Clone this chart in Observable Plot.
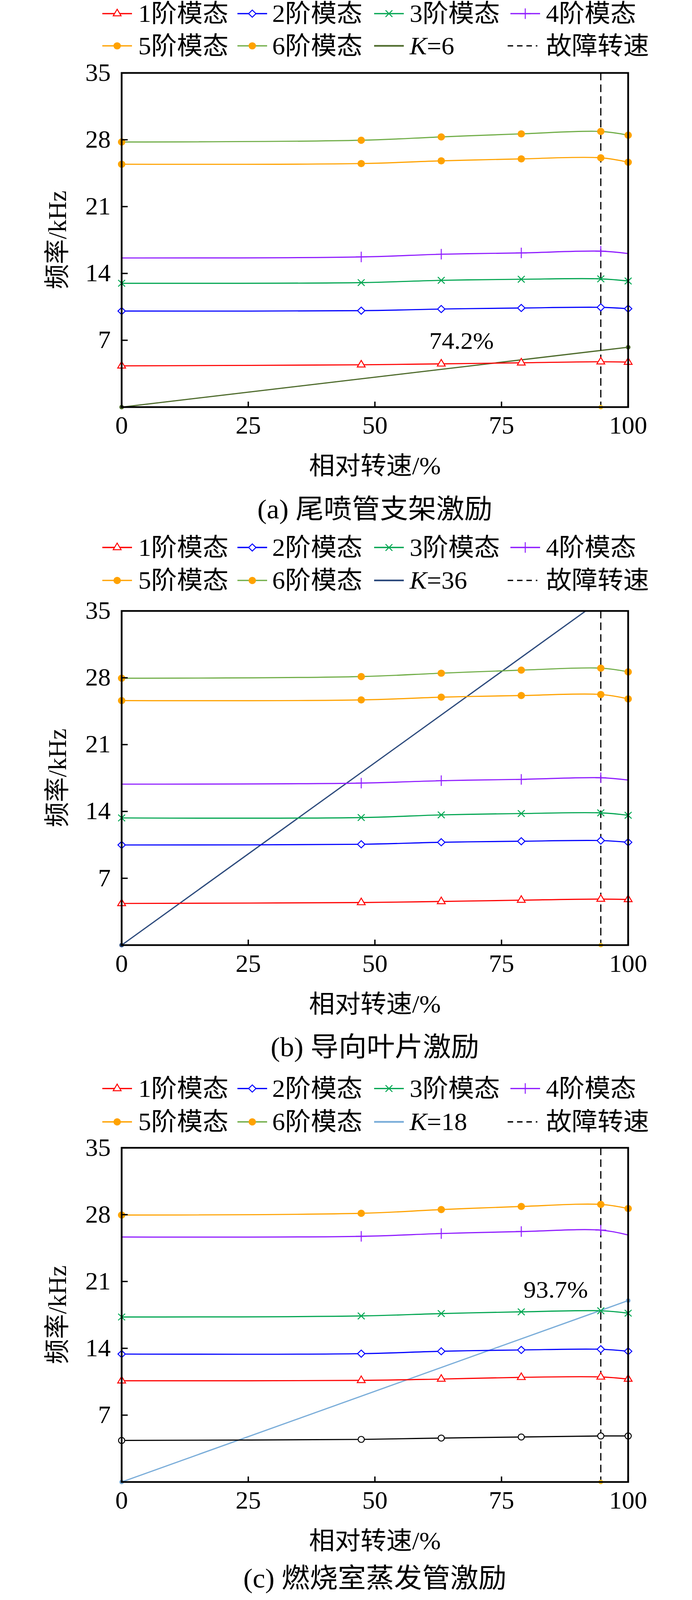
<!DOCTYPE html>
<html>
<head>
<meta charset="utf-8">
<script src="https://cdn.jsdelivr.net/npm/d3@7"></script>
<script src="https://cdn.jsdelivr.net/npm/@observablehq/plot@0.6"></script>
<style>
  html, body { margin: 0; padding: 0; background: #fff; overflow: hidden; }
  #page { position: relative; width: 1772px; height: 4223px; background: #fff;
    font-family: "Liberation Serif", "Noto Sans CJK SC", serif; color: #000; overflow: hidden;
    transform-origin: 0 0; }
  .abs { position: absolute; white-space: nowrap; line-height: 1; }
  .legtext { font-size: 66px; }
</style>
</head>
<body>
<div id="page"></div>
<script>
// ---------------- data ----------------
const speed = [0, 47.3, 63.1, 78.9, 94.6, 100];   // 相对转速/%
const faultSpeed = [94.6];
const xTicks = [0, 25, 50, 75, 100];
const yTicks = [7, 14, 21, 28, 35];
const legendLabels = ["1阶模态", "2阶模态", "3阶模态", "4阶模态", "5阶模态", "6阶模态"];

// (a) 尾喷管支架激励
const a_mode1 = [4.32, 4.43, 4.53, 4.64, 4.75, 4.71];
const a_mode2 = [10.06, 10.10, 10.27, 10.38, 10.45, 10.31];
const a_mode3 = [12.97, 13.04, 13.28, 13.39, 13.43, 13.21];
const a_mode4 = [15.62, 15.73, 16.01, 16.15, 16.33, 16.08];
const a_mode5 = [25.44, 25.51, 25.79, 26.00, 26.11, 25.65];
const a_mode6 = [27.77, 27.95, 28.30, 28.62, 28.87, 28.48];
const a_kX = [0, 100];
const a_kY = [0, 6.27];
const a_annot = [{x: 67.1, y: 6.9, text: "74.2%"}];

// (b) 导向叶片激励
const b_mode1 = [4.36, 4.46, 4.57, 4.71, 4.82, 4.78];
const b_mode2 = [10.49, 10.56, 10.77, 10.88, 10.95, 10.77];
const b_mode3 = [13.32, 13.36, 13.64, 13.78, 13.85, 13.60];
const b_mode4 = [16.86, 16.97, 17.22, 17.36, 17.53, 17.29];
const b_mode5 = [25.61, 25.68, 25.97, 26.14, 26.25, 25.79];
const b_mode6 = [27.95, 28.13, 28.48, 28.80, 29.01, 28.62];
const b_kX = [0, 100];
const b_kY = [0, 38.2];
const b_annot = [];

// (c) 燃烧室蒸发管激励
const c_black  = [4.35, 4.46, 4.60, 4.71, 4.82, 4.82];
const c_red    = [10.60, 10.64, 10.78, 10.96, 11.00, 10.78];
const c_blue   = [13.40, 13.44, 13.69, 13.83, 13.90, 13.69];
const c_green  = [17.28, 17.39, 17.64, 17.82, 17.93, 17.68];
const c_purple = [25.66, 25.73, 26.02, 26.23, 26.38, 25.87];
const c_orange = [27.96, 28.14, 28.53, 28.86, 29.07, 28.64];
const c_kX = [0, 100];
const c_kY = [0, 19.0];
const c_annot = [{x: 85.7, y: 20.1, text: "93.7%"}];

// ---------------- styles ----------------
const RED = "#ff0000", BLUE = "#0000ff", GREEN = "#00a550", PURPLE = "#8f1cff",
      ORANGE = "#ffa200", LGREEN = "#70ad47", GOLD = "#f4c430";
const FONT = '"Liberation Serif", "Noto Sans CJK SC", serif';

const styleOf = {
  tri:   {stroke: RED, symbol: "triangle", fill: "white", r: 7.5, sw: 2.5},
  dia:   {stroke: BLUE, symbol: "diamond2", fill: "white", r: 8.5, sw: 2.5},
  times: {stroke: GREEN, symbol: "times", fill: "none", r: 8, sw: 2.5},
  plus:  {stroke: PURPLE, symbol: "plus", fill: "none", r: 9, sw: 2.5},
  odot:  {stroke: "none", symbol: "circle", fill: ORANGE, r: 9.5, sw: 0},
  ocirc: {stroke: "#000", symbol: "circle", fill: "white", r: 8, sw: 2.5}
};

function rows(vals) { return speed.map((x, i) => ({x, y: vals[i]})); }

function seriesMarks(vals, lineColor, mk, noEnds) {
  const s = styleOf[mk];
  const data = rows(vals);
  return [
    Plot.line(data, {x: "x", y: "y", curve: "catmull-rom", stroke: lineColor, strokeWidth: 3}),
    Plot.dot(data, {x: "x", y: "y", symbol: s.symbol, r: s.r, fill: s.fill,
      stroke: s.stroke, strokeWidth: s.sw,
      filter: noEnds ? (d => d.x > 0 && d.x < 100) : undefined})
  ];
}

function makeChart(series, kX, kY, kColor, annot) {
  const kData = kX.map((x, i) => ({x, y: kY[i]}));
  const kDots = kData.filter(d => d.y <= 35);
  const marks = [
    Plot.line(kData, {x: "x", y: "y", stroke: kColor, strokeWidth: 3.2, clip: true}),
    Plot.dot(kDots, {x: "x", y: "y", r: 6, fill: kColor}),
    Plot.ruleX(faultSpeed, {stroke: "#000", strokeWidth: 3, strokeDasharray: "20,11"}),
    Plot.dot(faultSpeed, {x: d => d, y: () => 0, r: 6, fill: GOLD})
  ];
  for (const s of series) marks.push(...seriesMarks(s.vals, s.color, s.mk, s.noEnds));
  marks.push(
    Plot.text(annot, {x: "x", y: "y", text: "text", fontSize: 64, fill: "#000"}),
    Plot.frame({stroke: "#000", strokeWidth: 4.5}),
    Plot.axisY(yTicks, {anchor: "left", tickSize: -16, tickPadding: 44, strokeWidth: 3.5,
      tickFormat: d => String(d), label: null, fontSize: 65}),
    Plot.axisX(xTicks, {anchor: "bottom", tickSize: -14, tickPadding: 38, strokeWidth: 3.5,
      tickFormat: d => String(d), label: null, fontSize: 65})
  );
  return Plot.plot({
    width: 1772, height: 1022,
    marginLeft: 311, marginRight: 164, marginTop: 40, marginBottom: 100,
    x: {domain: [0, 100], axis: null},
    y: {domain: [0, 35], axis: null},
    style: {fontFamily: FONT, fontSize: "65px", color: "#000", background: "white", overflow: "visible"},
    marks
  });
}

// ---------------- legend ----------------
function swatchSVG(kind) {
  const w = 76, h = 40, cy = 20;
  const ns = "http://www.w3.org/2000/svg";
  const svg = document.createElementNS(ns, "svg");
  svg.setAttribute("width", w); svg.setAttribute("height", h);
  svg.style.display = "block";
  const line = (color, width, dash) => {
    const l = document.createElementNS(ns, "line");
    l.setAttribute("x1", 0); l.setAttribute("x2", w); l.setAttribute("y1", cy); l.setAttribute("y2", cy);
    l.setAttribute("stroke", color); l.setAttribute("stroke-width", width);
    if (dash) l.setAttribute("stroke-dasharray", dash);
    svg.appendChild(l);
  };
  const sym = (mk) => {
    const s = styleOf[mk];
    const map = {triangle: d3.symbolTriangle, diamond2: d3.symbolDiamond2, times: d3.symbolTimes,
                 plus: d3.symbolPlus, circle: d3.symbolCircle};
    const p = document.createElementNS(ns, "path");
    p.setAttribute("d", d3.symbol(map[s.symbol], Math.PI * s.r * s.r)());
    p.setAttribute("transform", `translate(${w / 2},${cy})`);
    p.setAttribute("fill", s.fill); p.setAttribute("stroke", s.stroke);
    p.setAttribute("stroke-width", s.sw);
    svg.appendChild(p);
  };
  if (kind.dash) line("#000", 3.5, "14,10");
  else { line(kind.color, kind.width || 3.5); if (kind.mk) sym(kind.mk); }
  return svg;
}

function addLegend(page, rowYs, kColor, kLabel) {
  const swX = [262, 608, 958, 1307];
  const txX = [354, 697, 1049, 1398];
  const items = [
    [{color: RED, mk: "tri"}, legendLabels[0]],
    [{color: BLUE, mk: "dia"}, legendLabels[1]],
    [{color: GREEN, mk: "times"}, legendLabels[2]],
    [{color: PURPLE, mk: "plus"}, legendLabels[3]],
    [{color: ORANGE, mk: "odot"}, legendLabels[4]],
    [{color: LGREEN, mk: "odot"}, legendLabels[5]],
    [{color: kColor, width: 4.5}, kLabel],
    [{dash: true}, "故障转速"]
  ];
  items.forEach(([kind, label], i) => {
    const r = Math.floor(i / 4), c = i % 4;
    const cy = rowYs[r];
    const sw = swatchSVG(kind);
    sw.classList.add("abs");
    sw.style.left = (kind.dash ? 1300 : swX[c]) + "px";
    sw.style.top = (cy - 20) + "px";
    page.appendChild(sw);
    const t = document.createElement("div");
    t.className = "abs legtext";
    t.style.left = txX[c] + "px";
    t.style.top = (cy - 33) + "px";
    t.style.height = "66px";
    t.innerHTML = label;
    page.appendChild(t);
  });
}

function addText(page, html, cx, cy, size, rotate) {
  const d = document.createElement("div");
  d.className = "abs";
  d.style.fontSize = size + "px";
  d.style.left = cx + "px";
  d.style.top = cy + "px";
  d.style.transform = `translate(-50%,-50%)${rotate ? " rotate(-90deg)" : ""}`;
  d.innerHTML = html;
  page.appendChild(d);
}

// ---------------- build ----------------
const page = document.getElementById("page");
const panels = [
  {frameTop: 192, legendY: [36, 121], kColor: "#4e6b2c", kLabel: "<i>K</i>=6",
   caption: "(a) 尾喷管支架激励", capY: 1344, kX: a_kX, kY: a_kY, annot: a_annot,
   series: [
     {vals: a_mode1, color: RED, mk: "tri"},
     {vals: a_mode2, color: BLUE, mk: "dia"},
     {vals: a_mode3, color: GREEN, mk: "times"},
     {vals: a_mode4, color: PURPLE, mk: "plus", noEnds: true},
     {vals: a_mode5, color: ORANGE, mk: "odot"},
     {vals: a_mode6, color: LGREEN, mk: "odot"}]},
  {frameTop: 1612, legendY: [1445, 1532], kColor: "#2c4a7c", kLabel: "<i>K</i>=36",
   caption: "(b) 导向叶片激励", capY: 2764, kX: b_kX, kY: b_kY, annot: b_annot,
   series: [
     {vals: b_mode1, color: RED, mk: "tri"},
     {vals: b_mode2, color: BLUE, mk: "dia"},
     {vals: b_mode3, color: GREEN, mk: "times"},
     {vals: b_mode4, color: PURPLE, mk: "plus", noEnds: true},
     {vals: b_mode5, color: ORANGE, mk: "odot"},
     {vals: b_mode6, color: LGREEN, mk: "odot"}]},
  {frameTop: 3029, legendY: [2873, 2961], kColor: "#7aadd9", kLabel: "<i>K</i>=18",
   caption: "(c) 燃烧室蒸发管激励", capY: 4166, kX: c_kX, kY: c_kY, annot: c_annot,
   series: [
     {vals: c_black, color: "#000", mk: "ocirc"},
     {vals: c_red, color: RED, mk: "tri"},
     {vals: c_blue, color: BLUE, mk: "dia"},
     {vals: c_green, color: GREEN, mk: "times"},
     {vals: c_purple, color: PURPLE, mk: "plus", noEnds: true},
     {vals: c_orange, color: ORANGE, mk: "odot"}]}
];

for (const p of panels) {
  const chart = makeChart(p.series, p.kX, p.kY, p.kColor, p.annot);
  chart.style.position = "absolute";
  chart.style.left = "0px";
  chart.style.top = (p.frameTop - 40) + "px";
  page.appendChild(chart);
  addLegend(page, p.legendY, p.kColor, p.kLabel);
  const fb = p.frameTop + 882;
  addText(page, "相对转速/%", 960, fb + 156, 66, false);
  addText(page, "频率/kHz", 147, p.frameTop + 441, 66, true);
  addText(page, p.caption, 960, p.capY, 72, false);
}

// fit the whole figure into the visible viewport if it is shorter than the figure
const vh = window.innerHeight || 4223;
if (vh > 0 && vh < 4223) {
  const k = vh / 4223;
  page.style.transform = `scale(1, ${k})`;
  document.body.style.height = vh + "px";
}
</script>
</body>
</html>
